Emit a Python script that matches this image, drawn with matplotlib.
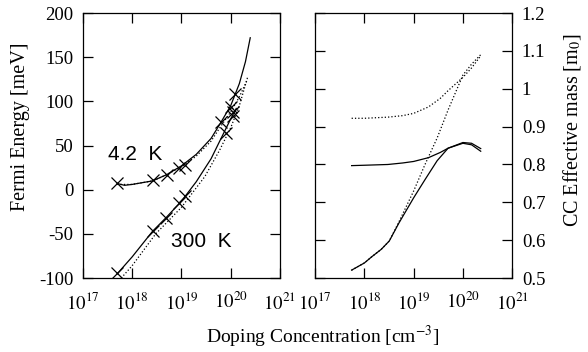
import numpy as np
import matplotlib.pyplot as plt

plt.rcParams['font.family'] = ['Liberation Serif', 'DejaVu Serif']
plt.rcParams['mathtext.fontset'] = 'stix'

# Fermi energy [meV] vs doping [cm^-3]
n_42_fit = [5e17, 7e17, 1e18, 2.6e18, 5e18, 1e19, 2e19, 4e19, 6e19, 1e20, 1.5e20, 2e20, 2.5e20]
e_42_fit = [7, 5, 6, 10, 17, 27, 40, 58, 74, 95, 120, 145, 172]
n_42_dot = [5e17, 1e18, 2.6e18, 5e18, 1e19, 2e19, 4e19, 6e19, 1e20, 1.5e20, 2.2e20]
e_42_dot = [6, 6, 10, 17, 26, 38, 55, 70, 88, 105, 125]
n_42_pts = [5e17, 2.6e18, 5e18, 9e18, 1.2e19, 6.3e19, 1e20, 1.1e20, 1.2e20]
e_42_pts = [8, 11, 17, 25, 28, 77, 94, 88, 108]

n_300_fit = [5e17, 1e18, 2.6e18, 5e18, 1e19, 2e19, 4e19, 6e19, 1e20, 1.3e20]
e_300_fit = [-95, -76, -47, -31, -13, 9, 35, 55, 80, 92]
n_300_dot = [6e17, 1e18, 3e18, 1e19, 3e19, 6e19, 1e20, 1.5e20, 2.2e20]
e_300_dot = [-100, -86, -50, -20, 15, 45, 70, 95, 127]
n_300_pts = [5e17, 2.6e18, 4.8e18, 9.1e18, 1.2e19, 8e19, 1.1e20]
e_300_pts = [-94, -47, -32, -15, -7, 64, 84]

# CC effective mass [m0] vs doping
n_m = [5.5e17, 1e18, 3e18, 6e18, 1e19, 2e19, 3.5e19, 5e19, 1e20, 1.5e20, 2.3e20]
m_42_solid = [0.797, 0.798, 0.800, 0.804, 0.808, 0.818, 0.832, 0.843, 0.856, 0.852, 0.835]
m_42_dot = [0.922, 0.922, 0.925, 0.929, 0.935, 0.952, 0.975, 0.995, 1.03, 1.055, 1.087]
n_m3 = [5.5e17, 1e18, 1.4e18, 2.2e18, 3.2e18, 5e18, 1e19, 1.7e19, 3e19, 5e19, 1e20, 1.5e20, 2.3e20]
m_300_solid = [0.521, 0.540, 0.556, 0.576, 0.598, 0.645, 0.712, 0.760, 0.810, 0.843, 0.858, 0.856, 0.842]
m_300_dot = [0.521, 0.540, 0.556, 0.576, 0.598, 0.648, 0.73, 0.80, 0.87, 0.944, 1.036, 1.065, 1.09]

decades = [1e17, 1e18, 1e19, 1e20, 1e21]
dec_labels = [r'$10^{17}$', r'$10^{18}$', r'$10^{19}$', r'$10^{20}$', r'$10^{21}$']

fig = plt.figure(figsize=(5.88, 3.52), dpi=100)
ax1 = fig.add_axes([0.141, 0.210, 0.335, 0.753])
ax2 = fig.add_axes([0.536, 0.210, 0.335, 0.753])

lw = 0.9
ax1.plot(n_42_fit, e_42_fit, 'k-', lw=lw)
ax1.plot(n_42_dot, e_42_dot, 'k:', lw=lw)
ax1.plot(n_300_fit, e_300_fit, 'k-', lw=lw)
ax1.plot(n_300_dot, e_300_dot, 'k:', lw=lw)
ax1.plot(n_42_pts, e_42_pts, 'kx', ms=9, mew=0.9)
ax1.plot(n_300_pts, e_300_pts, 'kx', ms=9, mew=0.9)
ax1.text(10**17.5, 40, '4.2  K', family='Liberation Sans', fontsize=15, va='center')
ax1.text(10**18.78, -59, '300  K', family='Liberation Sans', fontsize=15, va='center')
ax1.set_ylim(-100, 200)
ax1.set_yticks([-100, -50, 0, 50, 100, 150, 200])
ax1.set_yticklabels(['-100', '-50', '0', '50', '100', '150', '200'])
ax1.set_ylabel('Fermi Energy [meV]', fontsize=14.5)
ax1.yaxis.set_label_coords(-0.27, 0.57)

ax2.plot(n_m, m_42_solid, 'k-', lw=lw)
ax2.plot(n_m, m_42_dot, 'k:', lw=lw)
ax2.plot(n_m3, m_300_solid, 'k-', lw=lw)
ax2.plot(n_m3, m_300_dot, 'k:', lw=lw)
ax2.set_ylim(0.5, 1.2)
ax2.set_yticks([0.5, 0.6, 0.7, 0.8, 0.9, 1.0, 1.1, 1.2])
ax2.set_yticklabels(['0.5', '0.6', '0.7', '0.8', '0.9', '1', '1.1', '1.2'])
ax2.yaxis.tick_right()
ax2.yaxis.set_label_position('right')
ax2.set_ylabel(r'CC Effective mass [m$_0$]', fontsize=14.5)
ax2.yaxis.set_label_coords(1.25, 0.56)

for ax in (ax1, ax2):
    ax.set_xscale('log')
    ax.set_xlim(1e17, 1e21)
    ax.set_xticks(decades)
    ax.set_xticklabels(dec_labels)
    ax.minorticks_off()
    ax.tick_params(direction='in', length=7, width=0.9, top=True, left=True,
                   right=True, labelsize=13.5, pad=7)
    ax.tick_params(axis='x', pad=10)
    for s in ax.spines.values():
        s.set_linewidth(0.9)
ax2.tick_params(labelleft=False, labelright=True)

fig.text(0.548, 0.043, r'Doping Concentration [cm$^{-3}$]', ha='center', va='center',
         fontsize=14)

fig.savefig('out.png', dpi=100)
